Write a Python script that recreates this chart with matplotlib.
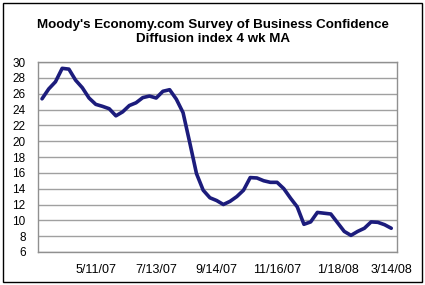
import matplotlib
matplotlib.use("Agg")
import matplotlib.pyplot as plt
import matplotlib.dates as mdates
from matplotlib.patches import Rectangle
import pandas as pd

plt.rcParams['font.family'] = ['Liberation Sans', 'DejaVu Sans']

title = "Moody's Economy.com Survey of Business Confidence\nDiffusion index 4 wk MA"
dates = pd.date_range('2007-03-16', '2008-03-14', freq='7D')
values = [25.35, 26.6, 27.5, 29.2, 29.1, 27.7, 26.75, 25.45, 24.65, 24.4,
          24.1, 23.2, 23.7, 24.5, 24.85, 25.5, 25.7, 25.45, 26.3, 26.5,
          25.3, 23.6, 19.8, 15.9, 13.8, 12.85, 12.5, 12.0, 12.4, 13.0,
          13.8, 15.4, 15.35, 15.0, 14.8, 14.8, 14.0, 12.8, 11.7, 9.5,
          9.8, 11.0, 10.9, 10.8, 9.7, 8.6, 8.1, 8.6, 9.0, 9.8,
          9.75, 9.45, 9.0]
tick_dates = ['2007-05-11', '2007-07-13', '2007-09-14', '2007-11-16', '2008-01-18', '2008-03-14']
tick_labels = ['5/11/07', '7/13/07', '9/14/07', '11/16/07', '1/18/08', '3/14/08']
yticks = list(range(6, 31, 2))

fig = plt.figure(figsize=(4.25, 2.85), dpi=100)
fig.patches.append(Rectangle((3/425, 3/285), 419/425, 279/285, transform=fig.transFigure,
                             fill=False, edgecolor='black', linewidth=1.0))
ax = fig.add_axes([38/425, 1 - 252/285, 359/425, 190/285])

ax.plot(mdates.date2num(dates), values, color='#1c1c7c', linewidth=2.6,
        solid_capstyle='round', solid_joinstyle='round', zorder=3)

ax.set_ylim(6, 30)
ax.set_yticks(yticks)
ax.set_yticklabels([str(v) for v in yticks])
x0 = mdates.date2num(pd.Timestamp('2007-03-16'))
ax.set_xlim(x0 - 4.2, x0 + 370)
ax.set_xticks([mdates.date2num(pd.Timestamp(d)) for d in tick_dates])
ax.set_xticklabels(tick_labels)
ax.tick_params(axis='y', length=0, pad=9.0, labelsize=8.5)
ax.tick_params(axis='x', length=0, pad=8.5, labelsize=9)
ax.grid(axis='y', color='#a0a0a0', linewidth=1.0)
ax.set_axisbelow(True)
for s in ax.spines.values():
    s.set_color('#909090')
    s.set_linewidth(1.0)

fig.text(0.5 * (3 + 422) / 425, 1 - 32 / 285, title, ha='center', va='center',
         fontsize=9.6, fontweight='bold', linespacing=1.3)

fig.savefig('out.png', dpi=100)
